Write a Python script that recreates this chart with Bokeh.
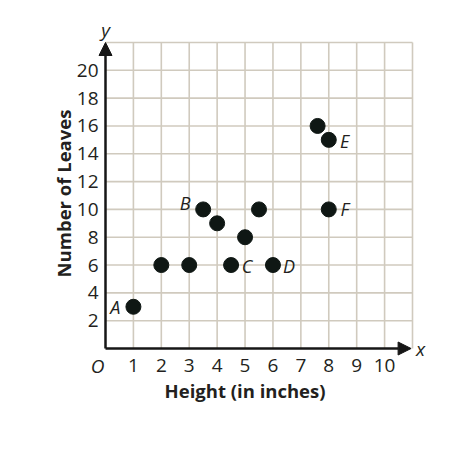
import math
from bokeh.plotting import figure
from bokeh.models import Range1d, Arrow, NormalHead, ColumnDataSource
from bokeh.core.properties import value
from bokeh.embed import file_html
from bokeh.resources import INLINE

# ---- data ----
heights = [1, 2, 3, 3.5, 4, 4.5, 5, 5.5, 6, 7.6, 8, 8]
leaves = [3, 6, 6, 10, 9, 6, 8, 10, 6, 16, 15, 10]
point_names = ["A", "", "", "B", "", "C", "", "", "D", "", "E", "F"]
x_ticks = [1, 2, 3, 4, 5, 6, 7, 8, 9, 10]
y_ticks = [2, 4, 6, 8, 10, 12, 14, 16, 18, 20]
x_grid = [1, 2, 3, 4, 5, 6, 7, 8, 9, 10, 11]
y_grid = [2, 4, 6, 8, 10, 12, 14, 16, 18, 20, 22]
x_max = 11
y_max = 22
x_label = "Height (in inches)"
y_label = "Number of Leaves"

# ---- layout (pixels) ----
W, H = 440, 446
X0_PX, X1_PX = 105, 412     # screen x of data x=0 and x=x_max
Y0_PX, Y1_PX = 348, 42      # screen y of data y=0 and y=y_max
PX = (X1_PX - X0_PX) / x_max
PY = (Y0_PX - Y1_PX) / y_max

name_dx = {"A": -18, "B": -18, "C": 16, "D": 16, "E": 16, "F": 16}
name_dy = {"A": 0, "B": -6, "C": 1, "D": 1, "E": 1, "F": 0}

GRID = "#d0cabe"
INK = "#161616"
TXT = "#231f20"
DOT = "#0f1714"
FONT = "Open Sans"

p = figure(width=W, height=H, output_backend="svg", toolbar_location=None,
           x_axis_location=None, y_axis_location=None,
           x_range=Range1d(-X0_PX / PX, x_max + (W - X1_PX) / PX),
           y_range=Range1d(-(H - Y0_PX) / PY, y_max + Y1_PX / PY),
           min_border=0)
p.outline_line_color = None
p.xgrid.visible = False
p.ygrid.visible = False
p.background_fill_color = "white"
p.border_fill_color = "white"

# grid
p.segment(x0=x_grid, y0=[0] * len(x_grid), x1=x_grid, y1=[y_max] * len(x_grid),
          line_color=GRID, line_width=1.6)
p.segment(x0=[0] * len(y_grid), y0=y_grid, x1=[x_max] * len(y_grid), y1=y_grid,
          line_color=GRID, line_width=1.6)

# axis arrows
p.add_layout(Arrow(x_start=0, y_start=0, x_end=x_max - 0.05, y_end=0, line_width=2.5, line_color=INK,
                   end=NormalHead(size=13, fill_color=INK, line_color=INK, line_width=1)))
p.add_layout(Arrow(x_start=0, y_start=0, x_end=0, y_end=y_max, line_width=2.5, line_color=INK,
                   end=NormalHead(size=13, fill_color=INK, line_color=INK, line_width=1)))

# tick labels
p.text(x=x_ticks, y=[0] * len(x_ticks), text=[str(t) for t in x_ticks], y_offset=17,
       text_font=value(FONT), text_font_size="19px", text_align="center",
       text_baseline="middle", text_color=TXT)
p.text(x=[0] * len(y_ticks), y=y_ticks, text=[str(t) for t in y_ticks], x_offset=-7,
       text_font=value(FONT), text_font_size="19px", text_align="right",
       text_baseline="middle", text_color=TXT)

# origin and axis letters
p.text(x=[0], y=[0], text=["O"], x_offset=-8, y_offset=17,
       text_font=value(FONT), text_font_style="italic", text_font_size="19px",
       text_align="center", text_baseline="middle", text_color=TXT)
p.text(x=[x_max], y=[0], text=["x"], x_offset=8, y_offset=0,
       text_font=value(FONT), text_font_style="italic", text_font_size="19px",
       text_align="center", text_baseline="middle", text_color=TXT)
p.text(x=[0], y=[y_max], text=["y"], x_offset=0, y_offset=-13,
       text_font=value(FONT), text_font_style="italic", text_font_size="19px",
       text_align="center", text_baseline="middle", text_color=TXT)

# axis titles
p.text(x=[5], y=[0], text=[x_label], y_offset=42,
       text_font=value(FONT), text_font_style="bold", text_font_size="18.5px",
       text_align="center", text_baseline="middle", text_color=TXT)
p.text(x=[0], y=[y_max / 2], text=[y_label], x_offset=-42, y_offset=-2, angle=math.pi / 2,
       text_font=value(FONT), text_font_style="bold", text_font_size="18.5px",
       text_align="center", text_baseline="middle", text_color=TXT)

# points
p.scatter(heights, leaves, size=15, fill_color=DOT, line_color=DOT)

# point names
names = [n for n in point_names if n]
src = ColumnDataSource(dict(
    x=[h for h, n in zip(heights, point_names) if n],
    y=[v for v, n in zip(leaves, point_names) if n],
    t=names,
    dx=[name_dx[n] for n in names],
    dy=[name_dy[n] for n in names],
))
p.text(x="x", y="y", text="t", x_offset="dx", y_offset="dy", source=src,
       text_font=value(FONT), text_font_style="italic", text_font_size="18px",
       text_align="center", text_baseline="middle", text_color=TXT)

open("out.html", "w").write(file_html(p, INLINE))
